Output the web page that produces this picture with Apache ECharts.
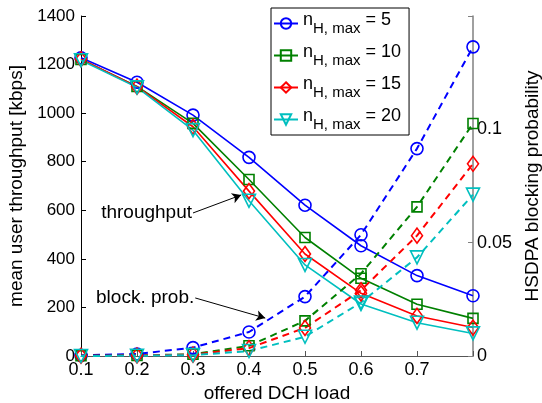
<!DOCTYPE html>
<html><head><meta charset="utf-8">
<script src="https://cdn.jsdelivr.net/npm/echarts@6/dist/echarts.min.js"></script>
<style>html,body{margin:0;padding:0;background:#fff}#c{width:542px;height:403px}</style>
</head><body><div id="c"></div>
<script>
// ---- data ----
const load = [0.1, 0.2, 0.3, 0.4, 0.5, 0.6, 0.7, 0.8];
const nMax = [5, 10, 15, 20];
const thr5  = [1228, 1127, 992, 818, 621, 454, 331, 248];
const thr10 = [1221, 1110, 958, 727, 488, 320, 213, 155];
const thr15 = [1222, 1109, 944, 679, 420, 258, 165, 117];
const thr20 = [1218, 1106, 930, 639, 375, 214, 137, 93];
const blk5  = [0.0003, 0.0009, 0.0037, 0.0106, 0.0262, 0.0535, 0.0915, 0.1364];
const blk10 = [0.0001, 0.0002, 0.0008, 0.0045, 0.0155, 0.0363, 0.0658, 0.1026];
const blk15 = [0.0001, 0.0002, 0.0006, 0.0035, 0.0124, 0.0290, 0.0531, 0.0848];
const blk20 = [0.0000, 0.0001, 0.0004, 0.0022, 0.0085, 0.0236, 0.0435, 0.0712];
const xTickLabels = ['0.1', '0.2', '0.3', '0.4', '0.5', '0.6', '0.7'];
const leftTickLabels = ['0', '200', '400', '600', '800', '1000', '1200', '1400'];
const rightTickLabels = ['0', '0.05', '0.1'];
// annotations (data coordinates on left axis)
const thrText = {label: 'throughput', at: [0.300, 589], arrowTo: [0.386, 663]};
const blkText = {label: 'block. prob.', at: [0.304, 239], arrowTo: [0.429, 156]};

// ---- styles ----
const FONT = 'Liberation Sans, Arial, sans-serif';
const colors = ['#0000ff', '#008000', '#ff0000', '#00bfbf'];
const symbols = ['circle', 'rect', 'diamond', 'triangle'];
const symSizes = [12, 10, [11, 15], 13];
const symRot = [0, 0, 0, 180];
const thr = [thr5, thr10, thr15, thr20];
const blk = [blk5, blk10, blk15, blk20];

const series = [];
nMax.forEach((n, i) => {
  series.push({
    type: 'line',
    name: 'n' + n,
    yAxisIndex: 0,
    symbol: symbols[i], symbolSize: symSizes[i], symbolRotate: symRot[i],
    itemStyle: {color: 'rgba(255,255,255,0)', borderColor: colors[i], borderWidth: 1.6},
    lineStyle: {color: colors[i], width: 1.6, type: 'solid'},
    emphasis: {disabled: true},
    data: load.map((x, k) => [x, thr[i][k]]),
    z: 3
  });
});
nMax.forEach((n, i) => {
  series.push({
    type: 'line',
    name: 'blk' + n,
    yAxisIndex: 1,
    symbol: symbols[i], symbolSize: symSizes[i], symbolRotate: symRot[i],
    itemStyle: {color: 'rgba(255,255,255,0)', borderColor: colors[i], borderWidth: 1.6},
    lineStyle: {color: colors[i], width: 2, type: [7, 5]},
    emphasis: {disabled: true},
    data: load.map((x, k) => [x, blk[i][k]]),
    z: 3
  });
});
// annotation arrows & texts attached to first series
series[0].markLine = {
  silent: true, animation: false,
  symbol: ['none', 'arrow'], symbolSize: [8, 9],
  lineStyle: {color: '#000', width: 1, type: 'solid'},
  label: {show: false},
  emphasis: {disabled: true},
  data: [
    [{coord: thrText.at}, {coord: thrText.arrowTo}],
    [{coord: blkText.at}, {coord: blkText.arrowTo}]
  ]
};
series[0].markPoint = {
  silent: true, animation: false,
  symbol: 'circle', symbolSize: 0,
  label: {show: true, position: 'left', distance: 1, color: '#000', fontSize: 19, fontFamily: FONT,
          formatter: p => p.name},
  data: [
    {name: thrText.label, coord: thrText.at},
    {name: blkText.label, coord: blkText.at}
  ]
};

const chart = echarts.init(document.getElementById('c'), null, {renderer: 'canvas'});
chart.setOption({
  animation: false,
  backgroundColor: '#fff',
  grid: {left: 81, right: 69, top: 16, bottom: 47, containLabel: false, outerBoundsMode: 'none'},
  legend: {
    data: nMax.map(n => 'n' + n),
    orient: 'vertical',
    left: 271, top: 8,
    itemWidth: 24, itemHeight: 13, itemGap: 7,
    padding: [3, 8, 3, 2],
    borderColor: '#000', borderWidth: 1, borderRadius: 0,
    backgroundColor: '#fff',
    selectedMode: false,
    formatter: name => '{n|n}{s|H, max}{e| = ' + name.slice(1) + '}',
    textStyle: {
      color: '#000', fontFamily: FONT,
      rich: {
        n: {fontSize: 18, lineHeight: 20, padding: [0, 0, 6, 0], fontFamily: FONT, color: '#000'},
        s: {fontSize: 15, lineHeight: 16, padding: [10, 0, 0, 0], fontFamily: FONT, color: '#000'},
        e: {fontSize: 18, lineHeight: 20, padding: [0, 0, 6, 0], fontFamily: FONT, color: '#000'}
      }
    }
  },
  xAxis: {
    type: 'value', min: 0.1, max: 0.8, interval: 0.1,
    axisLine: {show: true, onZero: false, lineStyle: {color: '#555', width: 1}},
    axisTick: {show: true, inside: true, length: 5, lineStyle: {color: '#555'}},
    splitLine: {show: false},
    axisLabel: {
      color: '#000', fontSize: 18, fontFamily: FONT, margin: 5,
      formatter: v => { const s = (+v).toFixed(1); return xTickLabels.includes(s) ? s : ''; }
    },
    name: 'offered DCH load', nameLocation: 'middle', nameGap: 25,
    nameTextStyle: {color: '#000', fontSize: 19, fontFamily: FONT}
  },
  yAxis: [
    {
      type: 'value', min: 0, max: 1400, interval: 200, position: 'left',
      axisLine: {show: true, onZero: false, lineStyle: {color: '#000', width: 1}},
      axisTick: {show: true, inside: true, length: 5, lineStyle: {color: '#000'}},
      splitLine: {show: false},
      axisLabel: {
        color: '#000', fontSize: 17, fontFamily: FONT, margin: 6,
        formatter: v => { const s = String(Math.round(v)); return leftTickLabels.includes(s) ? s : ''; }
      },
      name: 'mean user throughput [kbps]', nameLocation: 'middle', nameGap: 48,
      nameTextStyle: {color: '#000', fontSize: 19, fontFamily: FONT}
    },
    {
      type: 'value', min: 0, max: 0.15, interval: 0.05, position: 'right',
      axisLine: {show: true, onZero: false, lineStyle: {color: '#808080', width: 1.5}},
      axisTick: {show: true, inside: true, length: 5, lineStyle: {color: '#808080'}},
      splitLine: {show: false},
      axisLabel: {
        color: '#000', fontSize: 18, fontFamily: FONT, margin: 4,
        formatter: v => { const s = String(+(+v).toFixed(2)); return rightTickLabels.includes(s) ? s : ''; }
      },
      name: 'HSDPA blocking probability', nameLocation: 'middle', nameGap: 44,
      nameTextStyle: {color: '#000', fontSize: 19, fontFamily: FONT}
    }
  ],
  series: series
});
</script></body></html>
